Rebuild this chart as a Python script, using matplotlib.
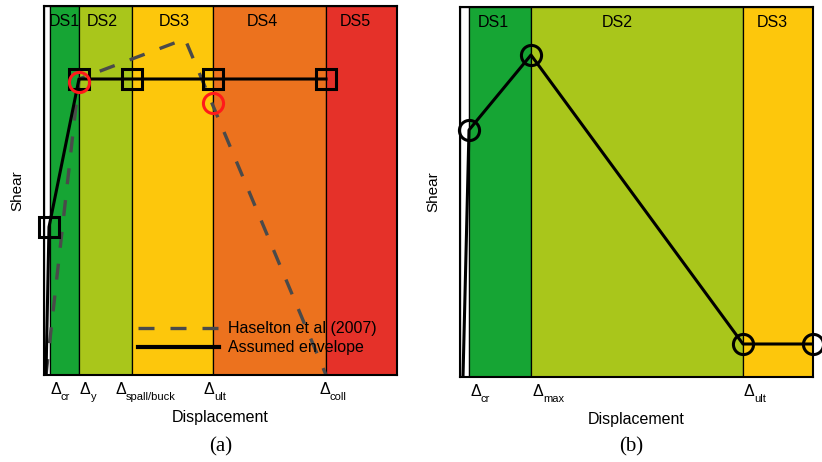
import matplotlib
matplotlib.use('Agg')
import matplotlib.pyplot as plt

plt.rcParams['font.family'] = ['Liberation Sans', 'DejaVu Sans']

# panel (a): damage state bands (displacement, arbitrary units)
edges_a = [0, 6, 35, 88, 169, 282, 353]
band_colors_a = ['white', '#16a534', '#a9c61b', '#fdc70c', '#ec721e', '#e53129']
ds_names_a = ['DS1', 'DS2', 'DS3', 'DS4', 'DS5']
ds_pos_a = [20, 58, 130, 218, 311]
delta_subs_a = ['cr', 'y', 'spall/buck', 'ult', 'coll']
delta_pos_a = [6, 36, 71, 159, 275]

# Haselton et al (2007) backbone
hasel_x = [2, 35, 141, 282]
hasel_y = [0, 296, 336, 0]

# assumed envelope
env_x = [2, 5, 35, 88, 169, 282]
env_y = [0, 148, 296, 296, 296, 296]

# red circles (Haselton points)
red_x = [35, 169]
red_y = [293, 272]

# panel (b)
edges_b = [0, 9, 71, 283, 353]
band_colors_b = ['white', '#16a534', '#a9c61b', '#fdc70c']
ds_names_b = ['DS1', 'DS2', 'DS3']
ds_pos_b = [33, 157, 312]
delta_subs_b = ['cr', 'max', 'ult']
delta_pos_b = [10, 72, 283]

curve_b_x = [3, 9, 71, 283, 353]
curve_b_y = [0, 247, 322, 33, 33]


def draw_bands(ax, edges, colors, names, name_pos):
    for left, right, c in zip(edges[:-1], edges[1:], colors):
        ax.axvspan(left, right, facecolor=c, edgecolor='black', lw=0.9, zorder=0)
    for n, x in zip(names, name_pos):
        ax.text(x, 0.957, n, transform=ax.get_xaxis_transform(), ha='center',
                va='center', fontsize=11.5)


def delta_labels(ax, subs, pos):
    for s, x in zip(subs, pos):
        ax.annotate('Δ', xy=(x, 0), xycoords=('data', 'axes fraction'),
                    xytext=(0, -5), textcoords='offset points',
                    ha='left', va='top', fontsize=11.5)
        ax.annotate(s, xy=(x, 0), xycoords=('data', 'axes fraction'),
                    xytext=(7.8, -12), textcoords='offset points',
                    ha='left', va='top', fontsize=8)


def style_axes(ax, xmax, ymax):
    ax.set_xlim(0, xmax)
    ax.set_ylim(0, ymax)
    ax.set_xticks([])
    ax.set_yticks([])
    for sp in ax.spines.values():
        sp.set_linewidth(1.5)
        sp.set_zorder(5)
    ax.set_xlabel('Displacement', fontsize=11.5, labelpad=25.5)
    ax.set_ylabel('Shear', fontsize=11, labelpad=14.5)


fig = plt.figure(figsize=(8.22, 4.62), dpi=100)
ax_a = fig.add_axes([44 / 822, 87 / 462, 353 / 822, 369 / 462])
ax_b = fig.add_axes([460 / 822, 85 / 462, 353 / 822, 370 / 462])

# ---- (a)
draw_bands(ax_a, edges_a, band_colors_a, ds_names_a, ds_pos_a)
ax_a.plot(hasel_x, hasel_y, color='#4a4a4a', lw=2.4, dashes=(4.8, 4.8),
          label='Haselton et al (2007)', zorder=3)
ax_a.plot(env_x, env_y, color='black', lw=2.2, label='Assumed envelope', zorder=3)
ax_a.plot(env_x[1:], env_y[1:], ls='none', marker='s', ms=15, mfc='none',
          mec='black', mew=2.2, zorder=4, clip_on=False)
ax_a.plot(red_x, red_y, ls='none', marker='o', ms=14.5, mfc='none',
          mec='#ff1a1a', mew=2.2, zorder=6, clip_on=False)
style_axes(ax_a, edges_a[-1], 369)
delta_labels(ax_a, delta_subs_a, delta_pos_a)
leg = ax_a.legend(loc='center left', bbox_to_anchor=(0.266, 0.1), frameon=False,
                  fontsize=11.5, handlelength=5.1, handletextpad=0.55,
                  labelspacing=0.25, borderpad=0, borderaxespad=0)
leg.get_lines()[1].set_linewidth(3)

# ---- (b)
draw_bands(ax_b, edges_b, band_colors_b, ds_names_b, ds_pos_b)
ax_b.plot(curve_b_x, curve_b_y, color='black', lw=2.2, zorder=3)
ax_b.plot(curve_b_x[1:], curve_b_y[1:], ls='none', marker='o', ms=14.5,
          mfc='none', mec='black', mew=2.2, zorder=6, clip_on=False)
style_axes(ax_b, edges_b[-1], 370)
delta_labels(ax_b, delta_subs_b, delta_pos_b)

fig.text(221 / 822, 1 - 447 / 462, '(a)', family='Liberation Serif',
         fontsize=15, ha='center', va='center')
fig.text(631 / 822, 1 - 447 / 462, '(b)', family='Liberation Serif',
         fontsize=15, ha='center', va='center')

fig.savefig('out.png', dpi=100)
